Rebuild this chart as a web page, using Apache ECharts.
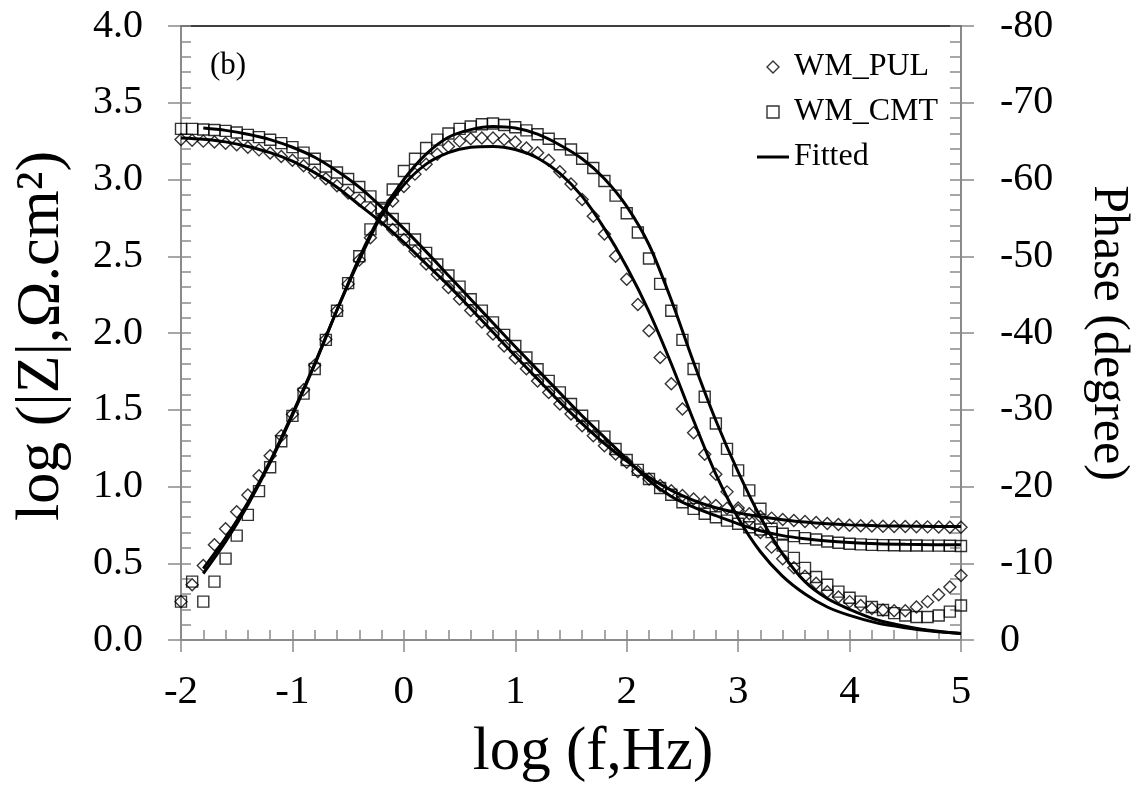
<!DOCTYPE html>
<html>
<head>
<meta charset="utf-8">
<title>EIS Bode plot</title>
<script src="https://cdn.jsdelivr.net/npm/echarts@6/dist/echarts.min.js"></script>
<style>
  html, body { margin: 0; padding: 0; background: #fff; }
  #chart { width: 1141px; height: 788px; }
</style>
</head>
<body>
<div id="chart"></div>
<script>
// measured points, log f from -2 to 5 (10 per decade)
var logF = [-2.0, -1.9, -1.8, -1.7, -1.6, -1.5, -1.4, -1.3, -1.2, -1.1,
  -1.0, -0.9, -0.8, -0.7, -0.6, -0.5, -0.4, -0.3, -0.2, -0.1,
  0.0, 0.1, 0.2, 0.3, 0.4, 0.5, 0.6, 0.7, 0.8, 0.9,
  1.0, 1.1, 1.2, 1.3, 1.4, 1.5, 1.6, 1.7, 1.8, 1.9,
  2.0, 2.1, 2.2, 2.3, 2.4, 2.5, 2.6, 2.7, 2.8, 2.9,
  3.0, 3.1, 3.2, 3.3, 3.4, 3.5, 3.6, 3.7, 3.8, 3.9,
  4.0, 4.1, 4.2, 4.3, 4.4, 4.5, 4.6, 4.7, 4.8, 4.9, 5.0];

// log |Z|
var zPUL = [3.26, 3.255, 3.25, 3.244, 3.236, 3.226, 3.21, 3.193, 3.172, 3.15,
  3.125, 3.09, 3.045, 3.005, 2.96, 2.912, 2.865, 2.812, 2.739, 2.674,
  2.609, 2.533, 2.45, 2.381, 2.297, 2.222, 2.146, 2.072, 1.994, 1.916,
  1.837, 1.767, 1.688, 1.613, 1.537, 1.472, 1.396, 1.331, 1.266, 1.212,
  1.158, 1.097, 1.049, 1.006, 0.973, 0.941, 0.919, 0.898, 0.876, 0.859,
  0.843, 0.822, 0.805, 0.794, 0.785, 0.778, 0.772, 0.765, 0.759, 0.752,
  0.748, 0.745, 0.743, 0.741, 0.74, 0.739, 0.738, 0.737, 0.736, 0.735, 0.734];
var zCMT = [3.33, 3.33, 3.326, 3.322, 3.317, 3.306, 3.291, 3.276, 3.259, 3.237,
  3.211, 3.175, 3.135, 3.085, 3.046, 3.003, 2.951, 2.89, 2.815, 2.743,
  2.678, 2.609, 2.522, 2.446, 2.375, 2.302, 2.22, 2.146, 2.069, 1.988,
  1.915, 1.84, 1.764, 1.688, 1.613, 1.537, 1.461, 1.392, 1.325, 1.244,
  1.173, 1.108, 1.049, 0.99, 0.946, 0.897, 0.854, 0.822, 0.8, 0.778,
  0.757, 0.735, 0.72, 0.703, 0.692, 0.677, 0.664, 0.655, 0.642, 0.634,
  0.627, 0.623, 0.62, 0.618, 0.617, 0.616, 0.616, 0.615, 0.615, 0.614, 0.612];

// phase (degree)
var phPUL = [-5.0, -7.2, -9.7, -12.4, -14.5, -16.7, -18.9, -21.4, -24.0, -26.6,
  -29.4, -32.6, -35.8, -39.2, -42.9, -46.4, -49.5, -52.4, -55.0, -57.2,
  -59.1, -60.7, -62.0, -63.3, -64.3, -65.0, -65.3, -65.4, -65.4, -65.2,
  -64.9, -64.1, -63.5, -62.5, -61.0, -59.4, -57.4, -55.2, -52.9, -50.0,
  -47.0, -43.7, -40.3, -36.8, -33.4, -30.1, -27.0, -24.2, -21.6, -19.3,
  -17.2, -15.6, -14.0, -12.1, -10.6, -9.4, -8.3, -7.4, -6.3, -5.6,
  -5.0, -4.5, -4.1, -3.9, -3.8, -3.8, -4.3, -5.0, -5.9, -6.9, -8.4];
var phCMT = [-5.0, -7.6, -5.0, -7.6, -10.6, -13.6, -16.3, -19.4, -22.5, -25.9,
  -29.2, -32.1, -35.3, -39.1, -42.9, -46.5, -50.0, -53.5, -56.1, -58.7,
  -61.1, -62.7, -64.1, -65.2, -66.0, -66.6, -66.9, -67.2, -67.3, -67.1,
  -66.8, -66.4, -65.9, -65.3, -64.6, -63.9, -62.7, -61.5, -59.8, -57.9,
  -55.6, -53.1, -49.7, -46.4, -42.9, -39.1, -35.3, -31.7, -28.2, -24.9,
  -22.1, -19.5, -17.1, -14.5, -12.3, -10.7, -9.4, -8.2, -7.2, -6.3,
  -5.5, -5.0, -4.3, -3.9, -3.5, -3.2, -3.0, -3.0, -3.2, -3.7, -4.5];

// fitted curves
var fitLogF = [-2.0, -1.8, -1.6, -1.4, -1.2, -1.0, -0.8, -0.6, -0.4, -0.2,
  0.0, 0.2, 0.4, 0.6, 0.8, 1.0, 1.2, 1.4, 1.6, 1.8,
  2.0, 2.2, 2.4, 2.6, 2.8, 3.0, 3.2, 3.4, 3.6, 3.8,
  4.0, 4.25, 4.5, 4.75, 5.0];
var fitZPUL = [3.27, 3.262, 3.245, 3.215, 3.175, 3.12, 3.045, 2.95, 2.835, 2.72,
  2.59, 2.45, 2.31, 2.16, 2.005, 1.85, 1.70, 1.55, 1.41, 1.28,
  1.165, 1.06, 0.975, 0.91, 0.862, 0.828, 0.803, 0.784, 0.768, 0.757,
  0.75, 0.745, 0.742, 0.74, 0.739];
var fitZCMT = [null, 3.335, 3.32, 3.295, 3.26, 3.21, 3.145, 3.055, 2.95, 2.82,
  2.68, 2.53, 2.375, 2.22, 2.065, 1.91, 1.76, 1.61, 1.46, 1.32,
  1.18, 1.04, 0.935, 0.865, 0.81, 0.757, 0.712, 0.68, 0.66, 0.645,
  0.635, 0.627, 0.623, 0.621, 0.62];
var fitPhPUL = [null, -9.3, -13.3, -17.9, -23.3, -29.5, -36.0, -43.0, -49.5, -55.3,
  -59.3, -62.0, -63.5, -64.2, -64.3, -63.9, -62.8, -60.8, -57.8, -53.6,
  -48.6, -42.8, -36.0, -28.6, -21.6, -15.9, -11.5, -8.3, -6.0, -4.3,
  -3.2, -2.2, -1.6, -1.15, -0.85];
var fitPhCMT = [null, -8.65, -12.8, -17.6, -23.1, -29.3, -35.9, -43.0, -49.8, -55.6,
  -60.0, -63.3, -65.5, -66.5, -66.9, -66.7, -65.9, -64.5, -62.7, -60.1,
  -56.5, -51.5, -44.3, -36.2, -28.6, -21.9, -16.0, -11.2, -7.6, -5.4,
  -4.0, -2.6, -1.8, -1.2, -0.85];

function pairs(xs, ys) {
  return xs.map(function (x, i) { return [x, ys[i]]; });
}

var font = 'Liberation Serif, Times New Roman, serif';
var gray = '#8a8a8a';
var hollow = { color: 'rgba(0,0,0,0)', borderColor: '#000', borderWidth: 1.4 };

var myChart = echarts.init(document.getElementById('chart'));

function scatter(name, sym, size, ys, yIdx) {
  return {
    name: name, type: 'scatter', yAxisIndex: yIdx,
    symbol: sym, symbolSize: size, z: 2,
    itemStyle: hollow,
    data: pairs(logF, ys)
  };
}
function fitted(ys, yIdx) {
  return {
    name: 'Fitted', type: 'line', yAxisIndex: yIdx,
    showSymbol: false, symbol: 'none', smooth: 0.3, z: 4,
    lineStyle: { color: '#000', width: 3 },
    itemStyle: { color: '#000' },
    data: pairs(fitLogF, ys)
  };
}

option = {
  animation: false,
  backgroundColor: '#fff',
  textStyle: { fontFamily: font },
  grid: { left: 181, right: 177, top: 26, bottom: 147 },
  title: {
    text: '(b)', left: 210, top: 50, padding: 0,
    textStyle: { fontFamily: font, fontSize: 31, fontWeight: 'normal', color: '#000' }
  },
  legend: {
    orient: 'vertical', left: 757, top: 51, padding: 0,
    itemWidth: 32, itemHeight: 12, itemGap: 13,
    textStyle: { fontFamily: font, fontSize: 32, lineHeight: 32, color: '#000' },
    data: [
      { name: 'WM_PUL', icon: 'path://M6,0L12,6L6,12L0,6Z', itemStyle: hollow },
      { name: 'WM_CMT', icon: 'path://M0,0H12V12H0Z', itemStyle: hollow },
      { name: 'Fitted', icon: 'path://M0,0H32V3H0Z', itemStyle: { color: '#000', borderWidth: 0 } }
    ]
  },
  xAxis: [{
    type: 'value', min: -2, max: 5, interval: 1, position: 'bottom',
    name: 'log (f,Hz)', nameLocation: 'middle', nameGap: 82,
    nameTextStyle: { fontFamily: font, fontSize: 61, color: '#000', padding: [0, 0, 0, 44] },
    axisLine: { onZero: false, lineStyle: { color: gray, width: 2 } },
    axisTick: { inside: true, length: 10, lineStyle: { color: gray, width: 1.5 } },
    minorTick: { show: true, splitNumber: 5, length: 10, lineStyle: { color: gray, width: 1.5 } },
    splitLine: { show: false },
    axisLabel: { fontFamily: font, fontSize: 41, color: '#000', margin: 32 }
  }, {
    // outer halves of the major ticks
    type: 'value', min: -2, max: 5, interval: 1, position: 'bottom',
    axisLine: { show: false, onZero: false },
    axisTick: { inside: false, length: 12, lineStyle: { color: gray, width: 1.5 } },
    axisLabel: { show: false }, splitLine: { show: false }
  }, {
    // top frame line
    type: 'value', min: -2, max: 5, position: 'top',
    axisLine: { onZero: false, lineStyle: { color: '#000', width: 1.5 } },
    axisTick: { show: false }, axisLabel: { show: false }, splitLine: { show: false }
  }],
  yAxis: [{
    type: 'value', min: 0, max: 4, interval: 0.5, position: 'left',
    name: 'log (|Z|,Ω.cm²)', nameLocation: 'middle', nameGap: 108,
    nameTextStyle: { fontFamily: font, fontSize: 62, color: '#000', padding: [0, 6, 0, 0] },
    axisLine: { onZero: false, lineStyle: { color: gray, width: 2 } },
    axisTick: { inside: true, length: 10, lineStyle: { color: gray, width: 1.5 } },
    minorTick: { show: true, splitNumber: 5, length: 10, lineStyle: { color: gray, width: 1.5 } },
    splitLine: { show: false },
    axisLabel: {
      fontFamily: font, fontSize: 40, color: '#000', margin: 38,
      formatter: function (v) { return v.toFixed(1); }
    }
  }, {
    type: 'value', min: 0, max: 4, interval: 0.5, position: 'left',
    axisLine: { show: false, onZero: false },
    axisTick: { inside: false, length: 13, lineStyle: { color: gray, width: 1.5 } },
    axisLabel: { show: false }, splitLine: { show: false }
  }, {
    type: 'value', min: -80, max: 0, interval: 10, inverse: true, position: 'right',
    name: 'Phase (degree)', nameLocation: 'middle', nameGap: 122, nameRotate: -90,
    nameTextStyle: { fontFamily: font, fontSize: 50, color: '#000' },
    axisLine: { onZero: false, lineStyle: { color: gray, width: 2 } },
    axisTick: { inside: true, length: 11, lineStyle: { color: gray, width: 1.5 } },
    minorTick: { show: true, splitNumber: 5, length: 11, lineStyle: { color: gray, width: 1.5 } },
    splitLine: { show: false },
    axisLabel: { fontFamily: font, fontSize: 40, color: '#000', margin: 39 }
  }, {
    type: 'value', min: -80, max: 0, interval: 10, inverse: true, position: 'right',
    axisLine: { show: false, onZero: false },
    axisTick: { inside: false, length: 13, lineStyle: { color: gray, width: 1.5 } },
    axisLabel: { show: false }, splitLine: { show: false }
  }],
  series: [
    scatter('WM_PUL', 'diamond', 12, zPUL, 0),
    scatter('WM_CMT', 'rect', 11, zCMT, 0),
    scatter('WM_PUL', 'diamond', 12, phPUL, 2),
    scatter('WM_CMT', 'rect', 11, phCMT, 2),
    fitted(fitZPUL, 0),
    fitted(fitZCMT, 0),
    fitted(fitPhPUL, 2),
    fitted(fitPhCMT, 2)
  ]
};

myChart.setOption(option);
</script>
</body>
</html>
